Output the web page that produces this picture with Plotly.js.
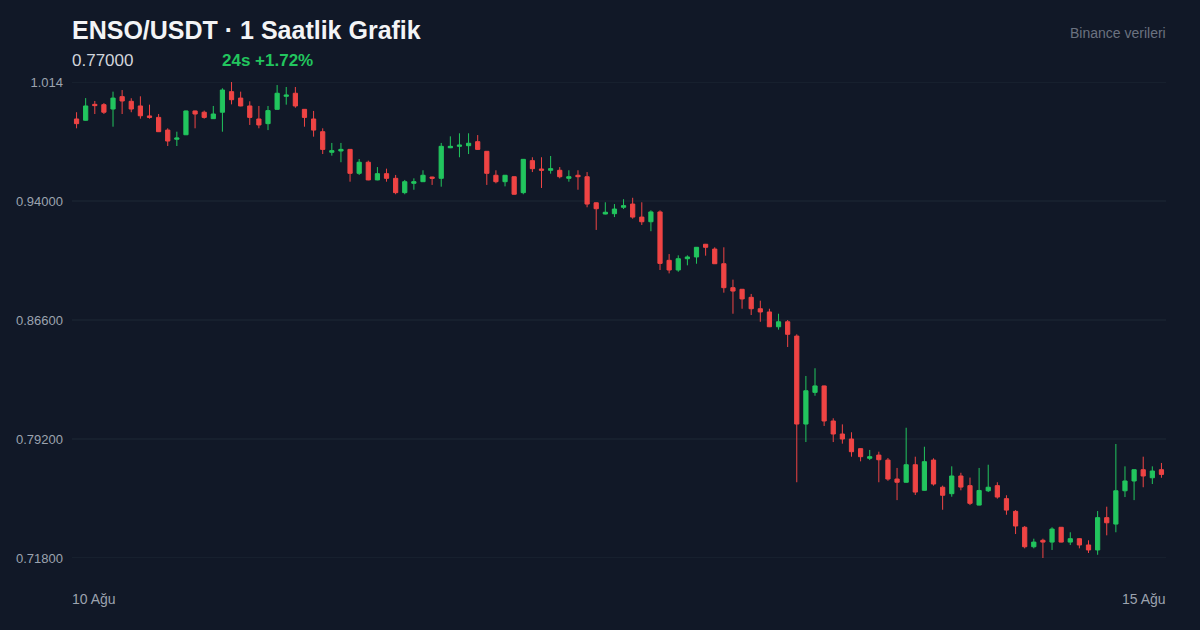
<!DOCTYPE html>
<html>
<head>
<meta charset="utf-8">
<script src="https://cdn.plot.ly/plotly-3.0.1.min.js"></script>
<style>
  html, body { margin: 0; padding: 0; background: #111827; }
  #chart { width: 1200px; height: 630px; }
</style>
</head>
<body>
<div id="chart"></div>
<script>
// ENSO/USDT hourly candles, 10 Aug -> 15 Aug (120 bars)
const startTime = "2025-08-10T00:00:00";
const openPrices = [
  0.9910,0.9902,1.0001,0.9999,0.9972,1.0049,1.0020,0.9991,0.9929,0.9920,
  0.9841,0.9784,0.9812,0.9960,0.9952,0.9912,0.9952,1.0080,1.0040,0.9991,
  0.9910,0.9881,0.9970,1.0051,1.0070,0.9970,0.9910,0.9831,0.9703,0.9711,
  0.9721,0.9572,0.9641,0.9531,0.9570,0.9541,0.9452,0.9510,0.9520,0.9549,
  0.9541,0.9731,0.9740,0.9744,0.9769,0.9709,0.9560,0.9520,0.9551,0.9452,
  0.9651,0.9599,0.9591,0.9591,0.9541,0.9560,0.9551,0.9389,0.9319,0.9321,
  0.9361,0.9381,0.9300,0.9271,0.9332,0.9031,0.8971,0.9041,0.9052,0.9131,
  0.9101,0.9010,0.8861,0.8851,0.8801,0.8730,0.8710,0.8618,0.8649,0.8560,
  0.8013,0.8210,0.8250,0.8032,0.7951,0.7920,0.7860,0.7800,0.7820,0.7789,
  0.7671,0.7651,0.7760,0.7601,0.7789,0.7620,0.7580,0.7690,0.7630,0.7509,
  0.7598,0.7630,0.7549,0.7470,0.7371,0.7250,0.7290,0.7279,0.7371,0.7279,
  0.7300,0.7261,0.7230,0.7431,0.7391,0.7598,0.7659,0.7729,0.7679,0.7729
];
const highPrices = [
  0.9952,1.0040,1.0022,1.0009,1.0080,1.0090,1.0039,1.0051,0.9999,0.9941,
  0.9852,0.9831,0.9962,0.9962,0.9962,0.9991,1.0101,1.0140,1.0080,1.0020,
  0.9991,0.9991,1.0121,1.0109,1.0109,0.9972,0.9960,0.9852,0.9761,0.9761,
  0.9723,0.9661,0.9651,0.9611,0.9601,0.9562,0.9531,0.9541,0.9591,0.9551,
  0.9761,0.9802,0.9821,0.9821,0.9810,0.9711,0.9591,0.9562,0.9553,0.9661,
  0.9672,0.9672,0.9680,0.9611,0.9591,0.9591,0.9580,0.9391,0.9392,0.9381,
  0.9411,0.9420,0.9392,0.9342,0.9342,0.9070,0.9062,0.9062,0.9114,0.9133,
  0.9112,0.9112,0.8911,0.8853,0.8822,0.8780,0.8730,0.8699,0.8660,0.8571,
  0.8312,0.8360,0.8252,0.8049,0.8011,0.7962,0.7862,0.7852,0.7841,0.7802,
  0.7740,0.7990,0.7810,0.7872,0.7800,0.7630,0.7750,0.7710,0.7680,0.7740,
  0.7760,0.7651,0.7570,0.7478,0.7379,0.7300,0.7300,0.7371,0.7373,0.7340,
  0.7302,0.7290,0.7472,0.7499,0.7889,0.7750,0.7731,0.7810,0.7750,0.7771
];
const lowPrices = [
  0.9852,0.9900,0.9941,0.9941,0.9862,0.9941,0.9952,0.9912,0.9912,0.9829,
  0.9742,0.9742,0.9810,0.9852,0.9912,0.9910,0.9831,1.0001,0.9989,0.9873,
  0.9852,0.9841,0.9968,0.9999,0.9980,0.9862,0.9800,0.9692,0.9682,0.9641,
  0.9520,0.9562,0.9529,0.9529,0.9520,0.9442,0.9442,0.9470,0.9518,0.9500,
  0.9489,0.9729,0.9672,0.9692,0.9719,0.9500,0.9510,0.9491,0.9440,0.9442,
  0.9580,0.9481,0.9570,0.9541,0.9520,0.9470,0.9361,0.9220,0.9317,0.9300,
  0.9350,0.9290,0.9251,0.9212,0.8971,0.8950,0.8960,0.9000,0.9010,0.9060,
  0.9008,0.8830,0.8699,0.8730,0.8691,0.8649,0.8616,0.8600,0.8492,0.7651,
  0.7901,0.8189,0.8001,0.7901,0.7891,0.7810,0.7781,0.7789,0.7651,0.7660,
  0.7540,0.7649,0.7572,0.7599,0.7630,0.7480,0.7561,0.7601,0.7509,0.7507,
  0.7590,0.7549,0.7449,0.7329,0.7240,0.7240,0.7180,0.7230,0.7277,0.7261,
  0.7240,0.7211,0.7200,0.7321,0.7340,0.7559,0.7540,0.7620,0.7640,0.7679
];
const closePrices = [
  0.9881,0.9991,0.9993,0.9952,1.0040,1.0022,0.9972,0.9930,0.9920,0.9831,
  0.9773,0.9792,0.9960,0.9941,0.9920,0.9941,1.0090,1.0030,0.9991,0.9920,
  0.9873,0.9962,1.0070,1.0059,0.9991,0.9920,0.9841,0.9721,0.9713,0.9721,
  0.9572,0.9641,0.9531,0.9570,0.9541,0.9452,0.9520,0.9520,0.9560,0.9541,
  0.9740,0.9740,0.9748,0.9759,0.9721,0.9572,0.9520,0.9560,0.9442,0.9659,
  0.9601,0.9591,0.9601,0.9551,0.9551,0.9551,0.9381,0.9352,0.9330,0.9350,
  0.9371,0.9300,0.9271,0.9332,0.9012,0.8971,0.9041,0.9052,0.9112,0.9112,
  0.9010,0.8861,0.8840,0.8791,0.8730,0.8710,0.8618,0.8649,0.8571,0.8013,
  0.8220,0.8250,0.8032,0.7951,0.7920,0.7841,0.7810,0.7810,0.7791,0.7671,
  0.7651,0.7760,0.7590,0.7779,0.7640,0.7570,0.7690,0.7621,0.7520,0.7600,
  0.7620,0.7559,0.7478,0.7379,0.7250,0.7279,0.7279,0.7360,0.7279,0.7300,
  0.7261,0.7230,0.7431,0.7399,0.7598,0.7659,0.7729,0.7690,0.7721,0.7700
];
const yTickValues = [0.718, 0.792, 0.866, 0.940, 1.014];
const yTickLabels = ["0.71800", "0.79200", "0.86600", "0.94000", "1.014"];
const xEdgeLabels = ["10 Ağu", "15 Ağu"];
const titleText = "ENSO/USDT · 1 Saatlik Grafik";
const lastPriceText = "0.77000";
const changeText = "24s +1.72%";
const sourceText = "Binance verileri";

const HOUR = 3600 * 1000;
const t0 = new Date(startTime + "Z").getTime();
const times = openPrices.map((_, i) => new Date(t0 + i * HOUR).toISOString());
const xStart = new Date(t0 - HOUR / 2).toISOString();
const xEnd = new Date(t0 + (openPrices.length - 0.5) * HOUR).toISOString();

const GREEN = "#22c55e", RED = "#ef4444";
const GRID = "#1f2937";
const FONT = "Liberation Sans, Arial, Helvetica, sans-serif";

const trace = {
  type: "candlestick",
  x: times,
  open: openPrices, high: highPrices, low: lowPrices, close: closePrices,
  increasing: { line: { color: GREEN, width: 1 }, fillcolor: GREEN },
  decreasing: { line: { color: RED, width: 1 }, fillcolor: RED },
  whiskerwidth: 0,
  hoverinfo: "skip"
};

// horizontal grid lines at each y tick (drawn as shapes so the edge lines show too)
const gridShapes = yTickValues.map(v => ({
  type: "line", layer: "below", xref: "paper", yref: "y",
  x0: 0, x1: 1, y0: v, y1: v,
  line: { color: GRID, width: 1 }
}));

const noBox = { borderpad: 0, borderwidth: 0, showarrow: false, xref: "paper", yref: "paper" };

const layout = {
  width: 1200, height: 630,
  paper_bgcolor: "#111827", plot_bgcolor: "#111827",
  margin: { l: 72, r: 34, t: 82, b: 72, pad: 0 },
  showlegend: false,
  hovermode: false,
  boxgap: 0.34,
  font: { family: FONT, color: "#9ca3af", size: 13 },
  title: {
    text: "<b>" + titleText + "</b>",
    x: 72 / 1200, xanchor: "left", xref: "container",
    y: 1 - 30 / 630, yanchor: "middle", yref: "container",
    font: { family: FONT, size: 25, color: "#f3f4f6" }
  },
  xaxis: {
    type: "date",
    range: [xStart, xEnd],
    rangeslider: { visible: false },
    showgrid: false, zeroline: false, showline: false,
    showticklabels: false, ticks: ""
  },
  yaxis: {
    range: [0.718, 1.014],
    tickmode: "array",
    tickvals: yTickValues,
    ticktext: yTickLabels,
    showgrid: false,
    zeroline: false, showline: false, ticks: "",
    ticklabelstandoff: 8,
    tickfont: { family: FONT, size: 13, color: "#9ca3af" }
  },
  shapes: gridShapes,
  annotations: [
    Object.assign({ text: lastPriceText, x: 0, y: (558 - 61) / 476,
      xanchor: "left", yanchor: "middle",
      font: { family: FONT, size: 17, color: "#d1d5db" } }, noBox),
    Object.assign({ text: "<b>" + changeText + "</b>", x: (222 - 72) / 1094, y: (558 - 61) / 476,
      xanchor: "left", yanchor: "middle",
      font: { family: FONT, size: 17, color: GREEN } }, noBox),
    Object.assign({ text: sourceText, x: 1, y: (558 - 33) / 476,
      xanchor: "right", yanchor: "middle",
      font: { family: FONT, size: 14, color: "#6b7280" } }, noBox),
    Object.assign({ text: xEdgeLabels[0], x: 0, y: (558 - 599) / 476,
      xanchor: "left", yanchor: "middle",
      font: { family: FONT, size: 14, color: "#9ca3af" } }, noBox),
    Object.assign({ text: xEdgeLabels[1], x: 1, y: (558 - 599) / 476,
      xanchor: "right", yanchor: "middle",
      font: { family: FONT, size: 14, color: "#9ca3af" } }, noBox)
  ]
};

Plotly.newPlot("chart", [trace], layout, { staticPlot: true, displayModeBar: false });
</script>
</body>
</html>
